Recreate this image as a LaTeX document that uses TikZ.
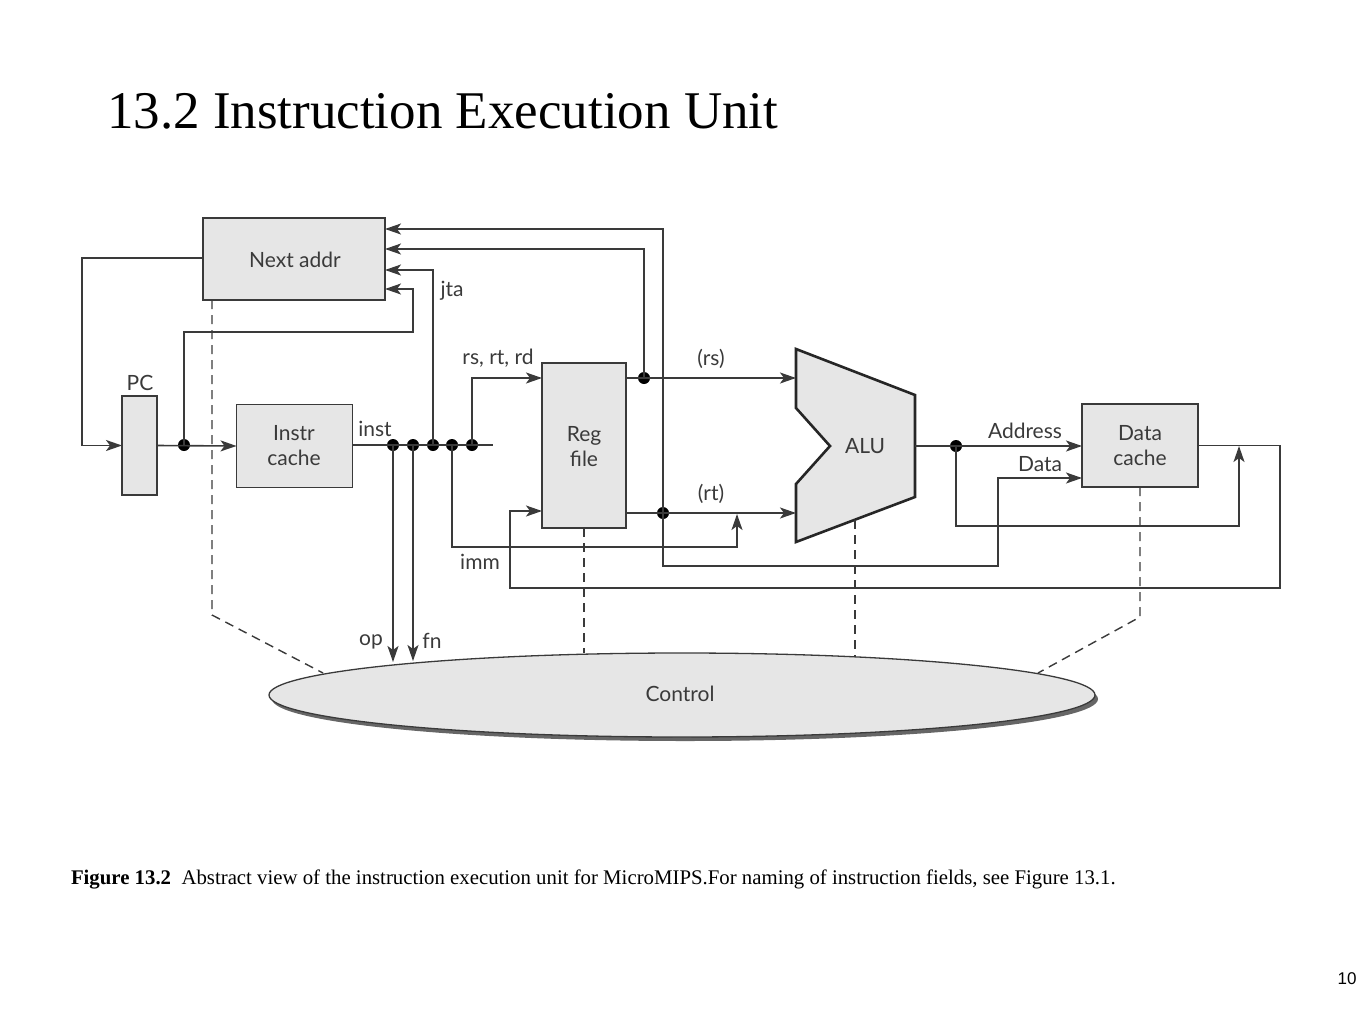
\documentclass[tikz,border=0pt]{standalone}
\usepackage{fontspec}
\setmainfont{Liberation Serif}
\newfontfamily\dfont{Lato}
\newfontfamily\pnfont{Liberation Sans}
\usetikzlibrary{arrows.meta,shapes.geometric,calc}
\definecolor{ln}{HTML}{3A3A3A}
\definecolor{bx}{HTML}{E6E6E6}
\begin{document}
\begin{tikzpicture}[x=1pt,y=-1pt,
  every node/.style={inner sep=0pt, outer sep=0pt},
  wire/.style={draw=ln, line width=1.6pt},
  arr/.style={wire, -{Stealth[length=16pt,width=11pt,inset=4pt]}},
  dsh/.style={draw=ln, line width=1.4pt, dash pattern=on 9pt off 6pt},
  blk/.style={draw=ln, line width=1.8pt, fill=bx, rectangle},
  lbl/.style={font=\dfont\fontsize{21}{25}\selectfont, text=ln, align=center},
  jdot/.style={circle, fill=black, minimum size=12pt}
]
\useasboundingbox (0,0) rectangle (1370,1028);

% title
\node[anchor=base west, font=\fontsize{53}{62}\selectfont] (title) at (107,128) {13.2 Instruction Execution Unit};

% blocks
\node[blk, minimum width=182pt, minimum height=82pt] (na) at (294,259) {};
\node[lbl] (naL) at (295,260) {Next addr};
\node[blk, minimum width=35pt, minimum height=99pt] (pc) at (139.5,445.5) {};
\node[lbl] (pcL) at (140,383) {PC};
\node[blk, minimum width=116pt, minimum height=83pt] (ic) at (294.5,446) {};
\node[lbl] (icL) at (294,446) {Instr\\cache};
\node[blk, minimum width=84pt, minimum height=165pt] (rf) at (584,445.5) {};
\node[lbl] (rfL) at (584,447) {Reg\\file};
\node[blk, minimum width=116pt, minimum height=83pt] (dc) at (1140,445.5) {};
\node[lbl] (dcL) at (1140,446) {Data\\cache};

% ALU
\draw[draw=black!85, line width=2.6pt, fill=bx, line join=miter]
  (796,349) -- (915,395) -- (915,497) -- (796,542) -- (796,484) -- (830,446) -- (796,408) -- cycle;
\node[lbl] (aluL) at (865,446) {ALU};
\coordinate (aluin1) at (796,378);
\coordinate (aluin2) at (796,513);
\coordinate (aluout) at (915,446);
\coordinate (alubot) at (855,520);

% Control ellipse
\node[ellipse, fill=black!60, minimum width=826pt, minimum height=84pt] (ctlS) at (685,699) {};
\node[ellipse, draw=ln, line width=1.3pt, fill=bx, minimum width=826pt, minimum height=84pt] (ctl) at (682,695) {};
\node[lbl] (ctlL) at (680,694) {Control};

% junction coordinates
\coordinate (lc) at (82,258);
\coordinate (na1) at (385,229);
\coordinate (na2) at (385,249);
\coordinate (na3) at (385,270);
\coordinate (na4) at (385,289);
\coordinate (k1) at (413,332);
\coordinate (iend) at (493,445);
\coordinate (rfin1) at (542,378);
\coordinate (rfin2) at (542,511);
\coordinate (k2) at (737,547);
\coordinate (k3) at (737,514);
\coordinate (k5) at (998,566);
\coordinate (dcin1) at (1082,446);
\coordinate (dcin2) at (1082,478);
\coordinate (k6) at (1239,526);
\coordinate (k7) at (1239,446);
\coordinate (k8) at (1280,588);
\coordinate (k9) at (510,588);
\coordinate (op) at (393,662);
\coordinate (fn) at (413,661);

% dots
\node[jdot] (d1) at (184,445) {};
\node[jdot] (i1) at (393,445) {};
\node[jdot] (i2) at (413,445) {};
\node[jdot] (i3) at (433,445) {};
\node[jdot] (i4) at (452,445) {};
\node[jdot] (i5) at (472,445) {};
\node[jdot] (rsd) at (644,378) {};
\node[jdot] (rtd) at (663,513) {};
\node[jdot] (ad) at (956,446) {};

% connectors
\draw[arr] (na.west |- lc) -- (lc) |- (pc.west);
\draw[arr] (pc.east) -- (ic.west);
\draw[arr] (d1.center) |- (k1) |- (na4);
\draw[arr] (i3.center) |- (na3);
\draw[wire] (ic.east |- iend) -- (iend);
\draw[arr] (i1.center) -- (op);
\draw[arr] (i2.center) -- (fn);
\draw[arr] (i5.center) |- (rfin1);
\draw[arr] (i4.center) |- (k2) -- (k3);
\draw[arr] (rf.east |- rsd) -- (aluin1);
\draw[arr] (rsd.center) |- (na2);
\draw[arr] (rf.east |- rtd) -- (aluin2);
\draw[arr] (rtd.center) |- (na1);
\draw[arr] (rtd.center) |- (k5) |- (dcin2);
\draw[arr] (aluout) -- (dcin1);
\draw[arr] (ad.center) |- (k6) -- (k7);
\draw[arr] (dc.east) -| (k8) -- (k9) |- (rfin2);

% dashed control links
\draw[dsh] ($(na.south west)+(9,0)$) -- (212,615) -- (323,673);
\draw[dsh] (rf.south) -- (rf.south |- ctl.north);
\draw[dsh] (alubot) -- (855,657);
\draw[dsh] (dc.south) -- (1140,617) -- (1038,673);

% labels
\node[lbl] (instL) at (375,429) {inst};
\node[lbl] (jtaL) at (452,291) {jta};
\node[lbl] (rsrtrdL) at (498,358) {rs, rt, rd};
\node[lbl] (rsL) at (711,359) {(rs)};
\node[lbl] (rtL) at (711,494) {(rt)};
\node[lbl] (immL) at (480,562) {imm};
\node[lbl] (addrL) at (1025,431) {Address};
\node[lbl] (dataL) at (1040,464) {Data};
\node[lbl] (opL) at (371,642) {op};
\node[lbl] (fnL) at (432,641) {fn};

% caption
\node[anchor=base west, font=\fontsize{20.8}{24}\selectfont] (cap) at (71,884)
  {\textbf{Figure 13.2}\hspace{0.5em}Abstract view of the instruction execution unit for MicroMIPS.For naming of instruction fields, see Figure 13.1.};
\node[anchor=base, font=\pnfont\fontsize{17}{20}\selectfont] (pnum) at (1347,984) {10};
\end{tikzpicture}
\end{document}
